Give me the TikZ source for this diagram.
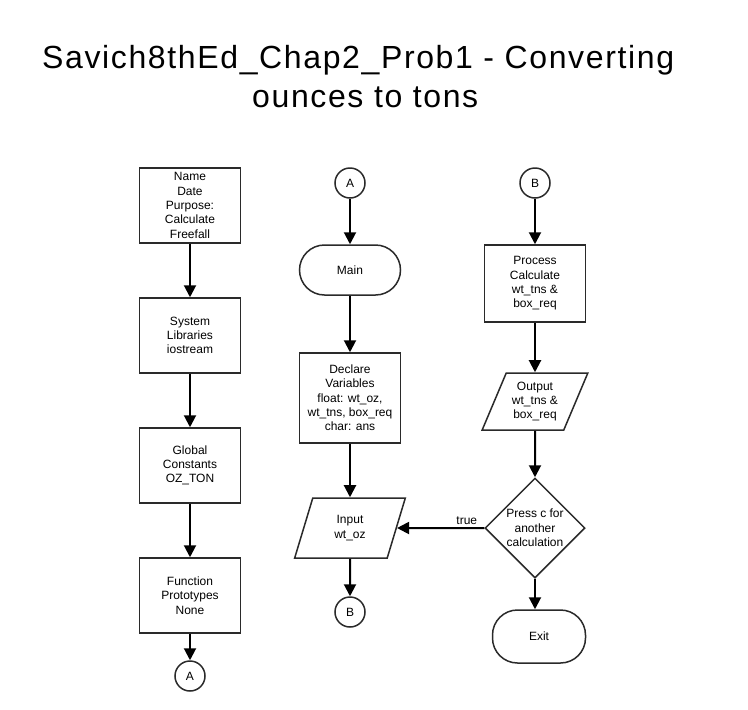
\documentclass[tikz,border=0pt]{standalone}
\usepackage{fontspec}
\setmainfont{Liberation Sans}
\newfontfamily\titlefont[LetterSpace=5.1]{Liberation Sans}
\usetikzlibrary{shapes.geometric,shapes.misc,arrows.meta}
\definecolor{bordercol}{HTML}{2A2A2A}
\begin{document}
\begin{tikzpicture}[x=1pt,y=-1pt,
  every node/.style={font=\fontsize{12}{14.3}\selectfont, align=center, inner sep=0pt},
  basebox/.style={draw=bordercol, line width=1.5pt},
  procbox/.style={basebox, rectangle, minimum width=101pt},
  termbox/.style={basebox, rectangle, rounded corners=25pt},
  iobox/.style={basebox, trapezium, trapezium stretches=true},
  decbox/.style={basebox, diamond, minimum width=100pt, minimum height=100pt},
  conbox/.style={basebox, circle, minimum size=30pt},
  arr/.style={line width=2pt, -{Triangle[length=12pt,width=12pt]}},
  titletext/.style={font=\titlefont\fontsize{32}{38}\selectfont, anchor=base west}
]
\useasboundingbox[fill=white] (0,0) rectangle (748,710);

% title
\node[titletext] (t1) at (42,68) {Savich8thEd\_Chap2\_Prob1 - Converting};
\node[titletext] (t2) at (252,107) {ounces to tons};

% left column
\node[procbox, minimum height=75pt] (b1) at (190,205.5) {Name\\Date\\Purpose:\\Calculate\\Freefall};
\node[procbox, minimum height=75pt] (b2) at (190,335.5) {System\\Libraries\\iostream};
\node[procbox, minimum height=75pt] (b3) at (190,465.5) {Global\\Constants\\OZ\_TON};
\node[procbox, minimum height=75pt] (b4) at (190,595.5) {Function\\Prototypes\\None};
\node[conbox] (ca1) at (190,676) {A};

% middle column
\node[conbox] (ca2) at (350,183) {A};
\node[termbox, minimum width=101pt, minimum height=50pt] (main) at (350,270) {Main};
\node[procbox, minimum height=90pt] (decl) at (350,398) {Declare\\Variables\\float: wt\_oz,\\wt\_tns, box\_req\\char: ans};
\node[iobox, trapezium left angle=73, trapezium right angle=107, minimum width=111pt, minimum height=60pt] (inp) at (350,528) {Input\\wt\_oz};
\node[conbox] (cb1) at (350,612) {B};

% right column
\node[conbox] (cb2) at (535,183) {B};
\node[procbox, minimum height=77pt] (proc) at (535,283.5) {Process\\Calculate\\wt\_tns \&\\box\_req};
\node[iobox, trapezium left angle=64, trapezium right angle=116, minimum width=106pt, minimum height=57pt] (outp) at (535,401.5) {Output\\wt\_tns \&\\box\_req};
\node[decbox] (dec) at (535,528) {Press c for\\another\\calculation};
\node[termbox, minimum width=93pt, minimum height=53pt] (exit) at (539,636.5) {Exit};

% connectors
\draw[arr] (b1) -- (b2);
\draw[arr] (b2) -- (b3);
\draw[arr] (b3) -- (b4);
\draw[arr] (b4) -- (ca1);

\draw[arr] (ca2) -- (main);
\draw[arr] (main) -- (decl);
\draw[arr] (decl) -- (inp);
\draw[arr] (inp) -- (cb1);

\draw[arr] (cb2) -- (proc);
\draw[arr] (proc) -- (outp);
\draw[arr] (outp) -- (dec);
\draw[arr] (dec.south) -- (dec.south |- exit.north);
\draw[arr] (dec.west) -- node[pos=0.2, above, inner sep=2pt] {true} (inp.east);
\end{tikzpicture}
\end{document}
